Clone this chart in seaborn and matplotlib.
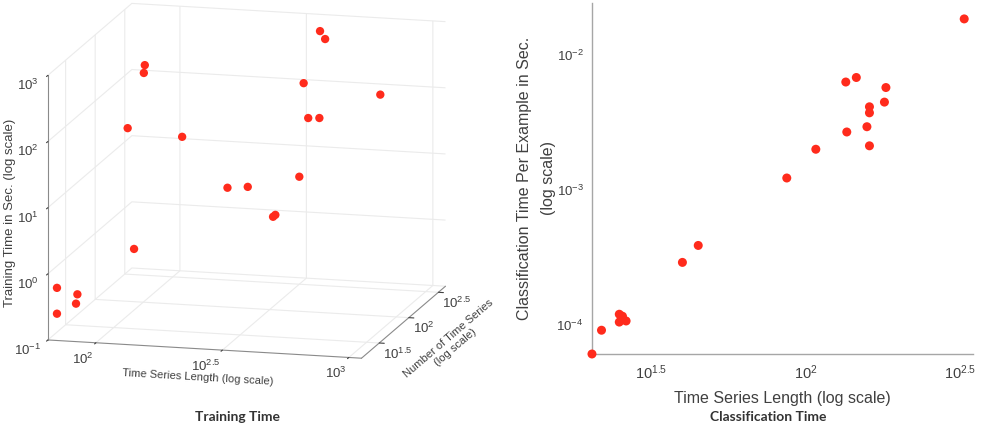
import numpy as np
import pandas as pd
import matplotlib
matplotlib.use("Agg")
import matplotlib.pyplot as plt
import seaborn as sns
from matplotlib.ticker import FixedLocator, FixedFormatter, LogLocator, NullFormatter

sns.set_style("white")
plt.rcParams['font.family'] = ['Liberation Sans', 'DejaVu Sans']
plt.rcParams['mathtext.fontset'] = 'custom'
plt.rcParams['mathtext.rm'] = 'Liberation Sans'
plt.rcParams['mathtext.it'] = 'Liberation Sans'
plt.rcParams['mathtext.bf'] = 'Liberation Sans:bold'

RED = "#ff2b1c"
TXT = "#404040"

# ---------------- data: training time (3D) ----------------
train_length = [382, 411, 113, 112, 387, 736, 449, 497, 120, 186,
                513, 281, 338, 475, 485, 134, 69, 80, 79, 69]
train_num = [316, 282, 63, 63, 158, 200, 100, 100, 25, 32,
             40, 32, 32, 20, 20, 20, 17, 20, 20, 17]
train_time = [700, 589, 562, 427, 195, 126, 85, 87, 129, 87,
              22.9, 16.2, 17.4, 9.5, 10.2, 2.34, 0.59, 0.43, 0.31, 0.24]

# ---------------- data: classification time (2D) ----------------
cls_length = [326, 135, 146, 182, 180, 161, 161, 158, 136, 161, 108, 87,
              45, 40, 25, 25.6, 25, 26.3, 25.4, 21.9, 20.4]
cls_time = [0.0183, 0.00625, 0.00675, 0.00569, 0.00444, 0.0041, 0.0037,
            0.00292, 0.00267, 0.00211, 0.00199, 0.00122, 0.000387, 0.00029,
            0.00012, 0.000116, 0.000105, 0.000107, 0.000111, 0.0000914, 0.000061]

x3_ticks = [2, 2.5, 3]
x3_labels = [r'$\mathregular{10^{2}}$', r'$\mathregular{10^{2.5}}$', r'$\mathregular{10^{3}}$']
y3_ticks = [1.5, 2, 2.5]
y3_labels = [r'$\mathregular{10^{1.5}}$', r'$\mathregular{10^{2}}$', r'$\mathregular{10^{2.5}}$']
z3_ticks = [-1, 0, 1, 2, 3]
z3_labels = [r'$\mathregular{10^{-1}}$', r'$\mathregular{10^{0}}$', r'$\mathregular{10^{1}}$',
             r'$\mathregular{10^{2}}$', r'$\mathregular{10^{3}}$']

x2_ticks = [10 ** 1.5, 10 ** 2, 10 ** 2.5]
x2_labels = [r'$\mathregular{10^{1.5}}$', r'$\mathregular{10^{2}}$', r'$\mathregular{10^{2.5}}$']
y2_ticks = [1e-4, 1e-3, 1e-2]
y2_labels = [r'$\mathregular{10^{-4}}$', r'$\mathregular{10^{-3}}$', r'$\mathregular{10^{-2}}$']

fig = plt.figure(figsize=(9.84, 4.32), dpi=100)

# ---------------- left: 3D ----------------
ax = fig.add_axes([-0.005, 0.0885, 0.5, 0.96], projection='3d')
ax.set_proj_type('ortho')
ax.view_init(elev=12.9, azim=-75.4)
ax.set_box_aspect((320, 329, 268), zoom=1.26)
ax.scatter(np.log10(train_length), np.log10(train_num), np.log10(train_time),
           color=RED, s=36, depthshade=False, edgecolors='none')
ax.set_xlim(1.81, 3.05)
ax.set_ylim(1.2, 2.62)
ax.set_zlim(-1, 3)
ax.set_xticks(x3_ticks, labels=x3_labels, ha='right')
ax.set_yticks(y3_ticks, labels=y3_labels, ha='left')
ax.zaxis.set_major_locator(FixedLocator(z3_ticks))
ax.zaxis.set_major_formatter(FixedFormatter(z3_labels))
for a in (ax.xaxis, ax.yaxis, ax.zaxis):
    a.set_pane_color((1, 1, 1, 0))
    a.pane.set_edgecolor('#e0e0e0')
    a.line.set_color('#8a8a8a')
    a._axinfo['grid'].update(color='#ebebeb', linewidth=0.8)
    a._axinfo['tick'].update(inward_factor=0.2, outward_factor=0.0)
ax.tick_params(labelsize=9.5, colors=TXT)
ax.tick_params(axis='x', pad=-4)
ax.tick_params(axis='y', pad=-6)
ax.tick_params(axis='z', pad=0)
ax.set_xlabel('Time Series Length (log scale)', fontsize=8, color=TXT, labelpad=-8)
ax.set_ylabel('Number of Time Series\n(log scale)', fontsize=8, color=TXT, labelpad=-1)
ax.set_zlabel('Training Time in Sec. (log scale)', fontsize=9.5, color=TXT, labelpad=-6)
ax.zaxis.set_ticks_position('lower')
ax.zaxis.set_label_position('lower')

# shift the depth-axis label a little along its axis (up-right), as in the reference
_ylbl = ax.yaxis.label
_ylbl_set_position = _ylbl.set_position


def _shifted_position(xy, _orig=_ylbl_set_position, _lbl=_ylbl):
    tr = _lbl.get_transform()
    disp = np.asarray(tr.transform(xy), dtype=float) + np.array([8.0, 16.0])
    _orig(tuple(tr.inverted().transform(disp)))


_ylbl.set_position = _shifted_position

fig.text(0.241, 0.035, 'Training Time', ha='center', va='center',
         fontsize=10, fontweight='bold', family=['Lato', 'DejaVu Sans'], color='#333333')

# ---------------- right: 2D ----------------
ax2 = fig.add_axes([0.6016, 0.1806, 0.3872, 0.8125])
df = pd.DataFrame({'length': cls_length, 'time': cls_time})
sns.scatterplot(data=df, x='length', y='time', ax=ax2, color=RED, s=42,
                edgecolor='none', clip_on=False, zorder=3)
ax2.set_xscale('log')
ax2.set_yscale('log')
ax2.set_xlim(20.4, 348)
ax2.set_ylim(6.1e-5, 0.024)
ax2.xaxis.set_major_locator(FixedLocator(x2_ticks))
ax2.xaxis.set_major_formatter(FixedFormatter(x2_labels))
ax2.xaxis.set_minor_locator(FixedLocator([]))
ax2.yaxis.set_major_locator(FixedLocator(y2_ticks))
ax2.yaxis.set_major_formatter(FixedFormatter(y2_labels))
ax2.yaxis.set_minor_locator(LogLocator(base=10, subs=np.arange(2, 10)))
ax2.yaxis.set_minor_formatter(NullFormatter())
for s in ('top', 'right'):
    ax2.spines[s].set_visible(False)
for s in ('left', 'bottom'):
    ax2.spines[s].set_color('#a6a6a6')
    ax2.spines[s].set_linewidth(1.0)
ax2.tick_params(which='major', direction='in', length=4, color='#a6a6a6',
                labelcolor=TXT, pad=7)
ax2.tick_params(axis='x', which='major', labelsize=10.5)
ax2.tick_params(axis='y', which='major', labelsize=9.5, pad=6)
ax2.tick_params(which='minor', direction='in', length=2, color='#a6a6a6')
ax2.set_xlabel('Time Series Length (log scale)', fontsize=11.5, color=TXT, labelpad=6)
ax2.set_ylabel('Classification Time Per Example in Sec.\n(log scale)', fontsize=11.5,
               color=TXT, linespacing=1.8)
ax2.yaxis.set_label_coords(-0.094, 0.5)

fig.text(0.7805, 0.035, 'Classification Time', ha='center', va='center',
         fontsize=10, fontweight='bold', family=['Lato', 'DejaVu Sans'], color='#333333')

fig.savefig('out.png', dpi=100, facecolor='white')
